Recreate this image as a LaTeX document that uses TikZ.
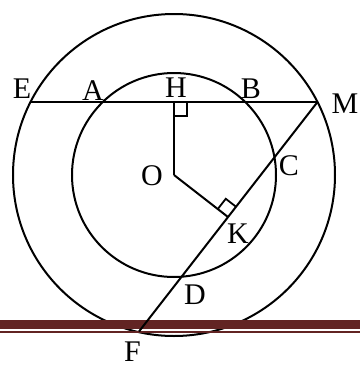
\documentclass[tikz,border=0pt]{standalone}
\usepackage{fontspec}
\setmainfont{Liberation Serif}
\usetikzlibrary{calc}
\definecolor{barred}{RGB}{98,36,35}
\tikzset{
  geo/.style={line width=1pt, black},
  lbl/.style={font=\fontsize{15pt}{17pt}\selectfont, inner sep=0pt},
}
\begin{document}
\begin{tikzpicture}[x=0.5pt,y=-0.5pt]
\useasboundingbox (0,0) rectangle (360,365);
% points
\coordinate (O) at (174,175);
\coordinate (H) at (174,102);
\coordinate (E) at (30.5,102);
\coordinate (M) at (317.5,102);
\coordinate (A) at (102.8,102);
\coordinate (B) at (245.2,102);
\coordinate (F) at (139,331.5);
\coordinate (K) at ($(M)!(O)!(F)$);
\coordinate (C) at (274.5,157.2);
\coordinate (D) at (181.3,276.8);
% circles
\draw[geo] (O) circle[radius=80.5pt];
\draw[geo] (O) circle[radius=51pt];
% bar
\fill[barred] (0,320) rectangle (360,329);
\fill[barred] (0,331) rectangle (360,333);
% lines
\draw[geo] (E) -- (M);
\draw[geo] (M) -- (F);
\draw[geo] (O) -- (H);
\draw[geo] (O) -- (K);
% right angle marks
\draw[line width=0.9pt] ($(H)!6.5pt!(M)$) -- ($(H)!6.5pt!(M) + (H)!7pt!(O) - (H)$) -- ($(H)!7pt!(O)$);
\draw[line width=0.9pt] ($(K)!6.5pt!(O)$) -- ($(K)!6.5pt!(O) + (K)!6.5pt!(M) - (K)$) -- ($(K)!6.5pt!(M)$);
% labels
\node[lbl] (lE) at (22,89) {E};
\node[lbl] (lA) at (93,91) {A};
\node[lbl] (lH) at (176,88) {H};
\node[lbl] (lB) at (251,89) {B};
\node[lbl] (lM) at (345,104) {M};
\node[lbl] (lC) at (289,166) {C};
\node[lbl] (lO) at (152,176) {O};
\node[lbl] (lK) at (238,234) {K};
\node[lbl] (lD) at (195,295) {D};
\node[lbl] (lF) at (132.5,351.5) {F};
\end{tikzpicture}
\end{document}
